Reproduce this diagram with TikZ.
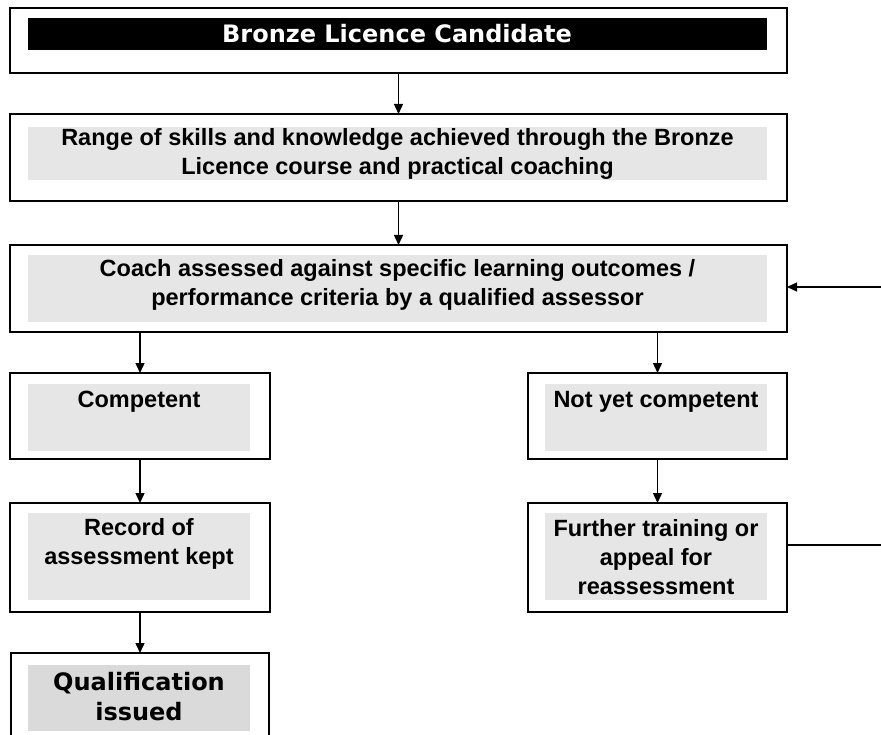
\documentclass[tikz,border=0pt]{standalone}
\usepackage{fontspec}
\setmainfont{Liberation Sans}
\newfontfamily\widefont{DejaVu Sans}
\usetikzlibrary{arrows.meta}
\definecolor{panelgray}{HTML}{E6E6E6}
\definecolor{qualgray}{HTML}{DADADA}
\begin{document}
\begin{tikzpicture}[x=1pt,y=-1pt,
  box/.style={draw=black, line width=1.9pt, fill=white, inner sep=0pt, outer sep=0pt},
  txt/.style={align=center, font=\bfseries\fontsize{23.5}{29}\selectfont, inner sep=0pt},
  widetxt/.style={align=center, font=\widefont\bfseries\fontsize{24}{30}\selectfont, inner sep=0pt},
  conn/.style={line width=1.4pt},
  link/.style={conn, -{Triangle[length=10pt,width=9pt]}}]
\clip (0,0) rectangle (881,735);
\fill[white] (0,0) rectangle (881,735);

% top title box
\node[box, minimum width=777, minimum height=65] (b1) at (398.5,40.5) {};
\fill[black] (28,18) rectangle (767,50);
\node[widetxt, text=white] (t1) at (397,34) {Bronze Licence Candidate};

% skills box
\node[box, minimum width=777, minimum height=87] (b2) at (398.5,157.5) {};
\fill[panelgray] (28,127) rectangle (767,180);
\node[txt] (t2) at (397.5,154) {Range of skills and knowledge achieved through the Bronze\\Licence course and practical coaching};

% assessment box
\node[box, minimum width=777, minimum height=87] (b3) at (398.5,288.5) {};
\fill[panelgray] (28,255) rectangle (767,322);
\node[txt] (t3) at (397.5,285) {Coach assessed against specific learning outcomes /\\performance criteria by a qualified assessor};

% competent
\node[box, minimum width=260, minimum height=86] (c) at (140,416) {};
\fill[panelgray] (28,384) rectangle (250,451);
\node[txt, anchor=north] (tc) at (139,391) {Competent};

% not yet competent
\node[box, minimum width=259, minimum height=86] (n) at (657.5,416) {};
\fill[panelgray] (545,384) rectangle (767,451);
\node[txt, anchor=north] (tn) at (656,391) {Not yet competent};

% record
\node[box, minimum width=260, minimum height=109] (r) at (140,557.5) {};
\fill[panelgray] (28,513) rectangle (250,600);
\node[txt, anchor=north] (tr) at (139,518) {Record of\\assessment kept};

% further training
\node[box, minimum width=259, minimum height=109] (f) at (657.5,557.5) {};
\fill[panelgray] (545,513) rectangle (767,600);
\node[txt] (tf) at (656,557) {Further training or\\appeal for\\reassessment};

% qualification
\node[box, minimum width=258, minimum height=100] (q) at (140,703) {};
\fill[qualgray] (28,665) rectangle (250,731);
\node[widetxt] (tq) at (139,697) {Qualification\\issued};

% connectors
\draw[link] (b1) -- (b2);
\draw[link] (b2) -- (b3);
\draw[link] (b3.south -| c.north) -- (c.north);
\draw[link] (b3.south -| n.north) -- (n.north);
\draw[link] (c) -- (r);
\draw[link] (r) -- (q);
\draw[link] (n) -- (f);
\coordinate (o1) at (881,545);
\coordinate (o2) at (881,287);
\draw[conn] (f.east |- o1) -- (o1);
\draw[link] (o2) -- (b3.east |- o2);
\end{tikzpicture}
\end{document}
